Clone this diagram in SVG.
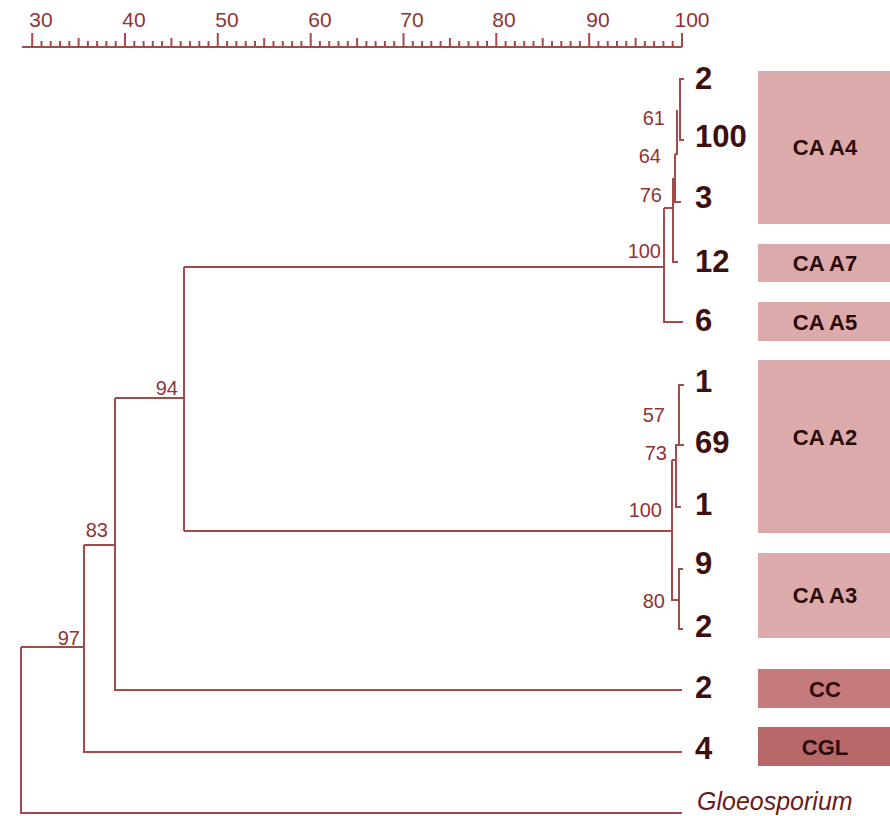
<svg xmlns="http://www.w3.org/2000/svg" width="890" height="816" viewBox="0 0 890 816">
<style>
.ax{font-family:"Liberation Sans",Arial,sans-serif;font-size:21px;fill:#8e3434;text-anchor:middle}
.bs{font-family:"Liberation Sans",Arial,sans-serif;font-size:20px;fill:#8e3434;text-anchor:end}
.lf{font-family:"Liberation Sans",Arial,sans-serif;font-size:31px;font-weight:bold;fill:#3d0f0f}
.bx{font-family:"Liberation Sans",Arial,sans-serif;font-size:22px;font-weight:bold;fill:#2b0a0a;text-anchor:middle}
.it{font-family:"Liberation Sans",Arial,sans-serif;font-size:25px;font-style:italic;fill:#6b1a1a}
.ln{fill:none;stroke:#a44a4a;stroke-width:2}
.ca{fill:#dcaaaa}
.cc{fill:#c57b7b}
.cg{fill:#b86868}
</style>
<rect width="890" height="816" fill="#ffffff"/>
<g id="axis">
<path class="ln" d="M22 47 H682"/>
<path class="ln" stroke-width="1.6" d="M32.2 33V47M41.5 41V47M50.7 41V47M60 41V47M69.3 41V47M78.6 38V47M87.9 41V47M97.1 41V47M106.4 41V47M115.7 41V47M125 33V47M134.3 41V47M143.6 41V47M152.8 41V47M162.1 41V47M171.4 38V47M180.7 41V47M190 41V47M199.3 41V47M208.5 41V47M217.8 33V47M227.1 41V47M236.4 41V47M245.7 41V47M255 41V47M264.2 38V47M273.5 41V47M282.8 41V47M292.1 41V47M301.4 41V47M310.7 33V47M319.9 41V47M329.2 41V47M338.5 41V47M347.8 41V47M357.1 38V47M366.4 41V47M375.6 41V47M384.9 41V47M394.2 41V47M403.5 33V47M412.8 41V47M422.1 41V47M431.3 41V47M440.6 41V47M449.9 38V47M459.2 41V47M468.5 41V47M477.8 41V47M487 41V47M496.3 33V47M505.6 41V47M514.9 41V47M524.2 41V47M533.5 41V47M542.7 38V47M552 41V47M561.3 41V47M570.6 41V47M579.9 41V47M589.2 33V47M598.4 41V47M607.7 41V47M617 41V47M626.3 41V47M635.6 38V47M644.9 41V47M654.1 41V47M663.4 41V47M672.7 41V47M682 33V47"/>
<text class="ax" x="41" y="27">30</text>
<text class="ax" x="134" y="27">40</text>
<text class="ax" x="227" y="27">50</text>
<text class="ax" x="320" y="27">60</text>
<text class="ax" x="412" y="27">70</text>
<text class="ax" x="504" y="27">80</text>
<text class="ax" x="598" y="27">90</text>
<text class="ax" x="692" y="27">100</text>
</g>
<g id="connectors">
<path class="ln" d="M21 647V813H682M21 647H84"/>
<path class="ln" d="M84 545V752H682M84 545H115"/>
<path class="ln" d="M115 398V690H682M115 398H184"/>
<path class="ln" d="M184 267V531M184 267H664M184 531H672"/>
<path class="ln" d="M664 208V322H683M664 208H673"/>
<path class="ln" d="M673 178V262H678"/>
<path class="ln" d="M675 154V202H681M675 154H677V110"/>
<path class="ln" d="M684 79H680V140H684"/>
<path class="ln" d="M672 460V600H679M672 460H676"/>
<path class="ln" d="M684 385H679V445H684M679 445H676V507H681"/>
<path class="ln" d="M683 569H679V629H683"/>
</g>
<g id="bootstrap">
<text class="bs" x="665" y="125">61</text>
<text class="bs" x="661" y="163">64</text>
<text class="bs" x="662" y="202">76</text>
<text class="bs" x="661" y="258">100</text>
<text class="bs" x="665" y="422">57</text>
<text class="bs" x="667" y="460">73</text>
<text class="bs" x="662" y="517">100</text>
<text class="bs" x="665" y="608">80</text>
<text class="bs" x="178" y="395">94</text>
<text class="bs" x="108" y="537">83</text>
<text class="bs" x="80" y="645">97</text>
</g>
<g id="leaf-2a"><text class="lf" x="695" y="89">2</text></g>
<g id="leaf-100"><text class="lf" x="695" y="147">100</text></g>
<g id="leaf-3"><text class="lf" x="695" y="208">3</text></g>
<g id="leaf-12"><text class="lf" x="695" y="272">12</text></g>
<g id="leaf-6"><text class="lf" x="695" y="331">6</text></g>
<g id="leaf-1a"><text class="lf" x="695" y="392">1</text></g>
<g id="leaf-69"><text class="lf" x="695" y="453">69</text></g>
<g id="leaf-1b"><text class="lf" x="695" y="515">1</text></g>
<g id="leaf-9"><text class="lf" x="695" y="574">9</text></g>
<g id="leaf-2b"><text class="lf" x="695" y="637">2</text></g>
<g id="leaf-2c"><text class="lf" x="695" y="698">2</text></g>
<g id="leaf-4"><text class="lf" x="695" y="759">4</text></g>
<g id="leaf-gloeosporium"><text class="it" x="697" y="810">Gloeosporium</text></g>
<g id="box-caa4"><rect class="ca" x="758" y="71" width="132" height="153"/><text class="bx" x="825" y="155">CA A4</text></g>
<g id="box-caa7"><rect class="ca" x="758" y="244" width="132" height="38"/><text class="bx" x="825" y="271">CA A7</text></g>
<g id="box-caa5"><rect class="ca" x="758" y="302" width="132" height="39"/><text class="bx" x="825" y="330">CA A5</text></g>
<g id="box-caa2"><rect class="ca" x="758" y="360" width="132" height="173"/><text class="bx" x="825" y="445">CA A2</text></g>
<g id="box-caa3"><rect class="ca" x="758" y="553" width="132" height="85"/><text class="bx" x="825" y="603">CA A3</text></g>
<g id="box-cc"><rect class="cc" x="758" y="669" width="132" height="39"/><text class="bx" x="825" y="697">CC</text></g>
<g id="box-cgl"><rect class="cg" x="758" y="727" width="132" height="39"/><text class="bx" x="825" y="755">CGL</text></g>
</svg>
